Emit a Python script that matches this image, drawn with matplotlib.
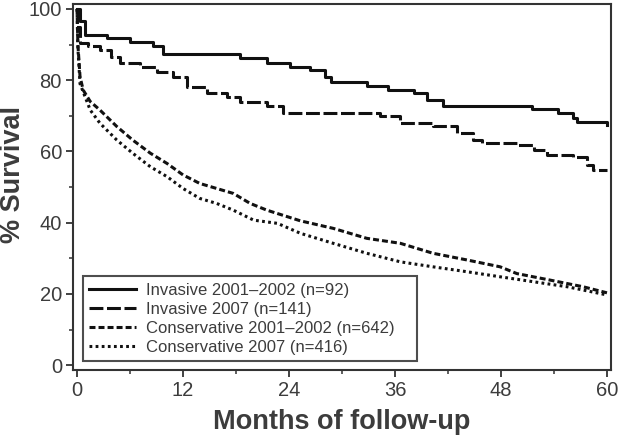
import matplotlib
matplotlib.use("Agg")
import matplotlib.pyplot as plt

plt.rcParams['font.family'] = ['Liberation Sans', 'DejaVu Sans']
plt.rcParams['lines.scale_dashes'] = False

inv01_t = [0, 0.3, 0.9, 3.4, 6.0, 8.6, 9.7, 18.5, 21.5, 24.1, 26.4, 28.1, 28.7, 32.8, 35.2, 38.1, 39.6, 41.4, 51.5, 54.4, 56.2, 56.6, 60.0]
inv01_s = [100, 96.5, 92.7, 91.8, 90.8, 89.5, 87.4, 86.1, 84.9, 83.8, 82.8, 81.0, 79.6, 78.4, 77.2, 76.3, 74.5, 72.8, 71.8, 70.7, 69.5, 68.3, 67.4]

inv07_t = [0, 0.1, 0.3, 1.2, 2.6, 3.8, 4.9, 7.1, 9.0, 10.9, 12.5, 14.7, 17.0, 18.5, 21.5, 23.3, 34.3, 36.6, 40.3, 43.0, 44.8, 45.9, 49.8, 51.7, 53.2, 56.2, 57.7, 58.4, 60.0]
inv07_s = [100, 95.0, 90.4, 89.5, 88.5, 86.5, 84.7, 83.8, 82.4, 81.0, 78.2, 76.3, 75.4, 74.0, 72.8, 70.9, 69.8, 68.1, 67.0, 65.1, 63.2, 62.3, 61.8, 60.4, 59.0, 58.5, 56.2, 54.8, 54.8]

con01_t = [0, 0.1, 0.34, 0.7, 1.5, 2.6, 4.5, 6.3, 8.3, 10.2, 12.0, 13.9, 17.7, 19.6, 21.5, 25.3, 29.0, 32.8, 36.6, 40.3, 44.2, 47.9, 49.8, 53.5, 57.3, 60.0]
con01_s = [100, 90.0, 81.0, 77.2, 74.0, 71.6, 67.0, 63.2, 59.5, 56.6, 53.4, 51.0, 48.2, 45.4, 43.5, 40.5, 38.4, 35.6, 34.2, 31.4, 29.5, 27.6, 25.7, 23.9, 22.0, 20.3]

con07_t = [0, 0.1, 0.34, 1.5, 2.6, 4.5, 6.3, 8.3, 10.2, 12.0, 13.9, 15.8, 17.7, 20.0, 22.7, 25.3, 29.0, 32.8, 36.6, 40.3, 44.2, 47.9, 51.7, 55.5, 60.0]
con07_s = [100, 89.0, 79.0, 71.6, 67.9, 63.2, 59.5, 55.7, 52.9, 49.6, 46.8, 45.4, 43.5, 40.7, 39.8, 37.0, 34.2, 31.4, 29.0, 27.6, 26.2, 24.8, 23.4, 22.0, 19.7]

labels = ["Invasive 2001\u20132002 (n=92)", "Invasive 2007 (n=141)",
          "Conservative 2001\u20132002 (n=642)", "Conservative 2007 (n=416)"]

x_ticks = [0, 12, 24, 36, 48, 60]
y_ticks = [0, 20, 40, 60, 80, 100]

txt = '#3c3c3c'
lc = '#111111'

fig = plt.figure(figsize=(6.19, 4.38), dpi=100)
ax = fig.add_axes([0.118, 0.155, 0.869, 0.836])

lw = 2.2
ax.plot(inv01_t, inv01_s, drawstyle='steps-post', color=lc, lw=lw, label=labels[0])
ax.plot(inv07_t, inv07_s, drawstyle='steps-post', color=lc, lw=lw, dashes=(10, 2.6), label=labels[1])
ax.plot(con01_t, con01_s, color=lc, lw=lw, dashes=(4.3, 2.2), label=labels[2])
ax.plot(con07_t, con07_s, color=lc, lw=lw, dashes=(2.0, 2.4), label=labels[3])

ax.set_xlim(-0.45, 60.45)
ax.set_ylim(-1.4, 101.4)
ax.set_xticks(x_ticks)
ax.set_yticks(y_ticks)
ax.set_xticks([6, 18, 30, 42, 54], minor=True)
ax.set_yticks([10, 30, 50, 70, 90], minor=True)
ax.tick_params(which='major', length=5, width=1.3, color='#333333', labelsize=14.5, labelcolor=txt, pad=3)
ax.tick_params(which='minor', length=3, width=1.1, color='#333333')
for s in ax.spines.values():
    s.set_linewidth(1.5)
    s.set_color('#333333')

ax.set_xlabel("Months of follow-up", fontsize=19.5, fontweight='bold', color=txt)
ax.set_ylabel("% Survival", fontsize=19.5, fontweight='bold', color=txt)
ax.xaxis.set_label_coords(0.5, -0.107)
ax.yaxis.set_label_coords(-0.087, 0.535)

leg = ax.legend(loc='lower left', bbox_to_anchor=(0.018, 0.024, 0.621, 0.23), mode='expand',
                fontsize=12, frameon=True, fancybox=False, edgecolor='#222222', handlelength=2.8,
                handletextpad=0.6, borderpad=0.4, labelspacing=0.24, borderaxespad=0)
leg.get_frame().set_linewidth(1.5)
for t in leg.get_texts():
    t.set_color(txt)

fig.savefig("out.png", dpi=100)
